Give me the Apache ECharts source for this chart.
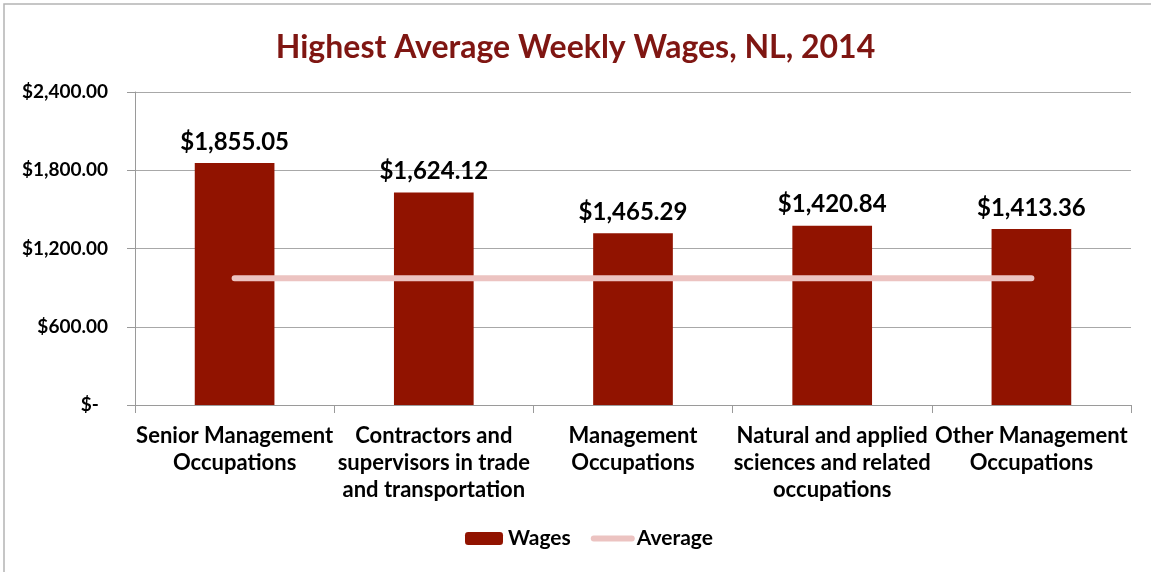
<!DOCTYPE html>
<html>
<head>
<meta charset="utf-8">
<title>Highest Average Weekly Wages, NL, 2014</title>
<script src="https://cdn.jsdelivr.net/npm/echarts@6/dist/echarts.min.js"></script>
<style>
  html, body { margin: 0; padding: 0; background: #fff; }
  #chart { width: 1151px; height: 572px; }
</style>
</head>
<body>
<div id="chart"></div>
<script>
// categories (wrapped as on the original axis)
let categories = [
    'Senior Management\nOccupations',
    'Contractors and\nsupervisors in trade\nand transportation',
    'Management\nOccupations',
    'Natural and applied\nsciences and related\noccupations',
    'Other Management\nOccupations'
]
// bar heights as drawn in the picture
let wages = [1855, 1630, 1316, 1375, 1350]
// label texts printed above the bars
let wageLabels = ['$1,855.05', '$1,624.12', '$1,465.29', '$1,420.84', '$1,413.36']
// average line
let average = [971, 971, 971, 971, 971]
let yTicks = [0, 600, 1200, 1800, 2400]

let font = 'Lato, "Open Sans", sans-serif'

function money(v) {
    if (v === 0) return '$-  '
    return '$' + v.toLocaleString('en-US', { minimumFractionDigits: 2, maximumFractionDigits: 2 })
}

let myChart = echarts.init(document.getElementById('chart'))
let option = {
    backgroundColor: '#fff',
    textStyle: { fontFamily: font },
    title: {
        text: 'Highest Average Weekly Wages, NL, 2014',
        left: 'center',
        top: 27,
        textStyle: { color: '#7f1612', fontSize: 32, fontWeight: 'bold', fontFamily: font }
    },
    graphic: [{
        type: 'rect',
        shape: { x: 4, y: 4, width: 1200, height: 620 },
        style: { fill: 'none', stroke: '#b4b4b4', lineWidth: 1.5 },
        silent: true
    }],
    legend: {
        bottom: 18,
        left: 460,
        itemWidth: 38,
        itemHeight: 13,
        itemGap: 20,
        textStyle: { fontSize: 21, fontWeight: 'bold', color: '#000', fontFamily: font },
        data: [
            { name: 'Wages' },
            {
                name: 'Average',
                itemStyle: { opacity: 0 },
                lineStyle: { width: 6, cap: 'round', color: '#ecc3c1' }
            }
        ]
    },
    grid: { left: 135, right: 20, top: 92, bottom: 167 },
    xAxis: {
        type: 'category',
        data: categories,
        axisLine: { lineStyle: { color: '#9a9a9a' } },
        axisTick: { show: true, length: 8, lineStyle: { color: '#9a9a9a' } },
        axisLabel: {
            interval: 0,
            margin: 17,
            fontSize: 22,
            fontWeight: 'bold',
            color: '#000',
            lineHeight: 27,
            fontFamily: font
        }
    },
    yAxis: {
        type: 'value',
        min: yTicks[0],
        max: yTicks[yTicks.length - 1],
        interval: yTicks[1] - yTicks[0],
        axisLine: { show: true, lineStyle: { color: '#9a9a9a' } },
        axisTick: { show: true, length: 8, lineStyle: { color: '#9a9a9a' } },
        splitLine: { lineStyle: { color: '#a8a8a8' } },
        axisLabel: {
            margin: 27,
            fontSize: 19,
            fontWeight: 'bold',
            color: '#000',
            fontFamily: font,
            formatter: money
        }
    },
    series: [
        {
            name: 'Wages',
            type: 'bar',
            data: wages,
            barWidth: '40%',
            itemStyle: { color: '#911300' },
            label: {
                show: true,
                position: 'top',
                distance: 9,
                fontSize: 24,
                fontWeight: 'bold',
                color: '#000',
                fontFamily: font,
                formatter: function (p) { return wageLabels[p.dataIndex] }
            }
        },
        {
            name: 'Average',
            type: 'line',
            data: average,
            symbol: 'none',
            showSymbol: false,
            lineStyle: { color: '#ecc3c1', width: 6, cap: 'round' },
            itemStyle: { color: '#ecc3c1' },
            z: 3
        }
    ]
}
myChart.setOption(option)
</script>
</body>
</html>
